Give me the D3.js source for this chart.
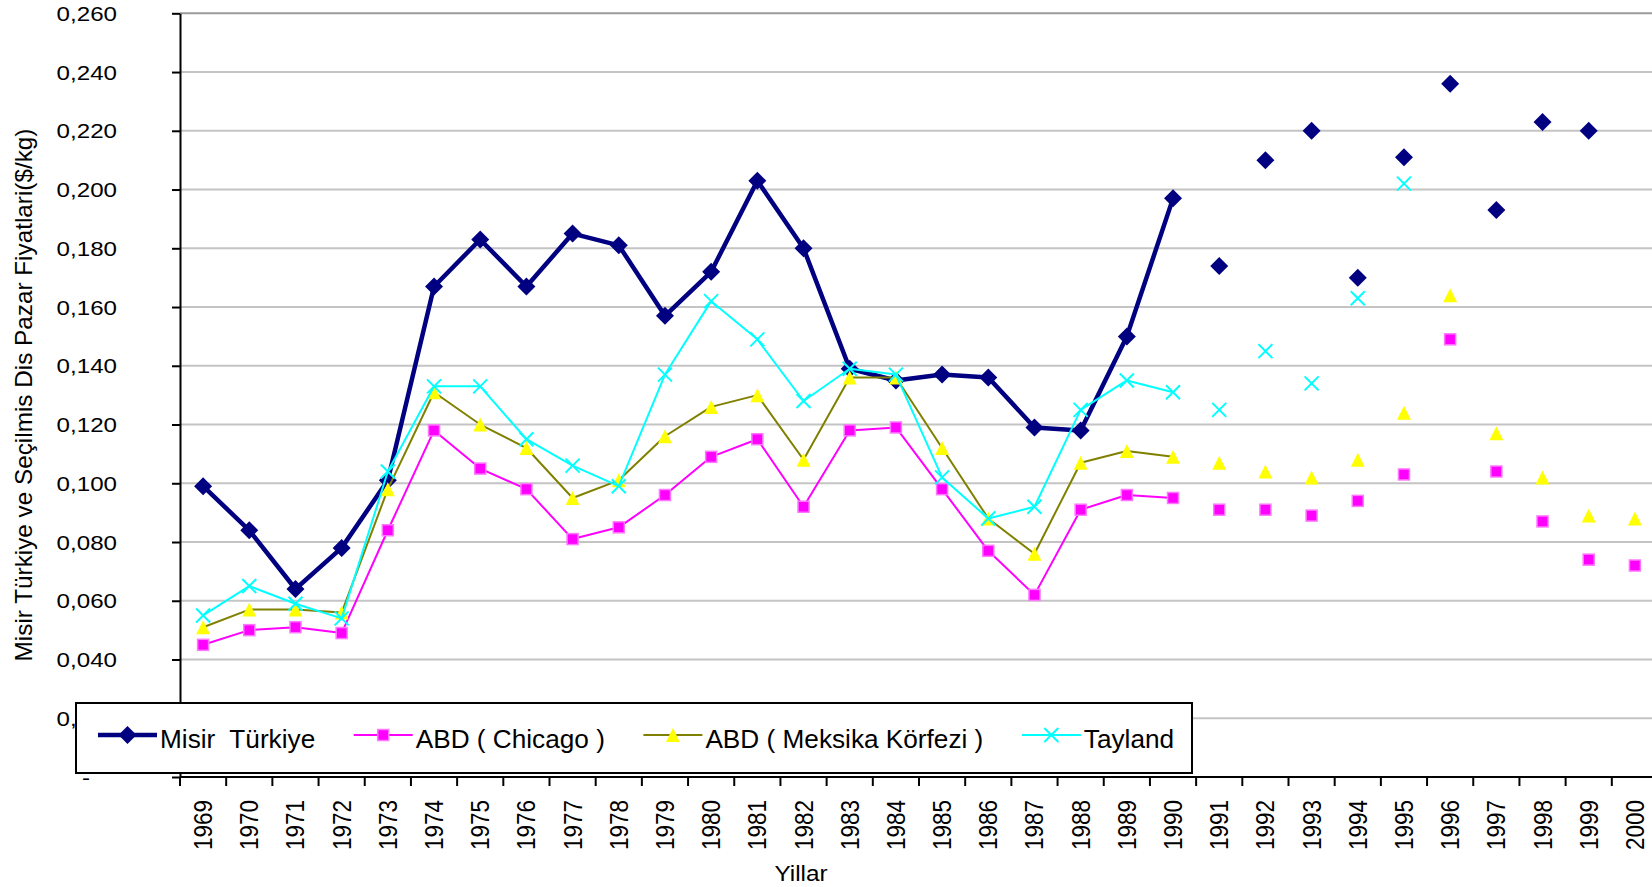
<!DOCTYPE html>
<html><head><meta charset="utf-8">
<script src="https://cdn.jsdelivr.net/npm/d3@7"></script>
<style>
html,body{margin:0;padding:0;background:#fff;overflow:hidden}
text{font-family:"Liberation Sans",Arial,"DejaVu Sans",sans-serif;fill:#000}
</style></head><body>
<svg id="chart" width="1652" height="887"></svg>
<script>
// ---- data ----
const years = ["1969","1970","1971","1972","1973","1974","1975","1976","1977","1978",
  "1979","1980","1981","1982","1983","1984","1985","1986","1987","1988","1989","1990",
  "1991","1992","1993","1994","1995","1996","1997","1998","1999","2000"];
const misirTurkiye = [0.099,0.084,0.064,0.078,0.101,0.167,0.183,0.167,0.185,0.181,
  0.157,0.172,0.203,0.180,0.139,0.135,0.137,0.136,0.119,0.118,0.150,0.197,
  0.174,0.210,0.220,0.170,0.211,0.236,0.193,0.223,0.220,null];
const abdChicago = [0.045,0.050,0.051,0.049,0.084,0.118,0.105,0.098,0.081,0.085,
  0.096,0.109,0.115,0.092,0.118,0.119,0.098,0.077,0.062,0.091,0.096,0.095,
  0.091,0.091,0.089,0.094,0.103,0.149,0.104,0.087,0.074,0.072];
const abdMeksika = [0.051,0.057,0.057,0.056,0.098,0.131,0.120,0.112,0.095,0.101,
  0.116,0.126,0.130,0.108,0.136,0.136,0.112,0.088,0.076,0.107,0.111,0.109,
  0.107,0.104,0.102,0.108,0.124,0.164,0.117,0.102,0.089,0.088];
const tayland = [0.055,0.065,0.059,0.054,0.104,0.133,0.133,0.115,0.106,0.099,
  0.137,0.162,0.149,0.128,0.139,0.137,0.102,0.088,0.092,0.125,0.135,0.131,
  0.125,0.145,0.134,0.163,0.202,null,null,null,null,null];
const seriesNames = ["Misir  Türkiye","ABD ( Chicago )","ABD ( Meksika Körfezi )","Tayland"];
const yTicks = [0,0.02,0.04,0.06,0.08,0.10,0.12,0.14,0.16,0.18,0.20,0.22,0.24,0.26];
const lastLinkedYear = "1990";
const yTitle = "Misir Türkiye ve Seçilmis Dis Pazar Fiyatlari($/kg)";
const xTitle = "Yillar";

// ---- styles ----
const styles = [
  {values: misirTurkiye, line:"#000080", width:4.5, marker:"diamond", fill:"#000080", stroke:"#000080"},
  {values: abdChicago, line:"#FF00FF", width:2, marker:"square", fill:"#FF00FF", stroke:"#FF77FF"},
  {values: abdMeksika, line:"#808000", width:2, marker:"triangle", fill:"#FFFF00", stroke:"#FFFF00"},
  {values: tayland, line:"#00FFFF", width:2, marker:"x", fill:"none", stroke:"#00FFFF"}
];

const svg = d3.select("#chart");
svg.append("rect").attr("width",1652).attr("height",887).attr("fill","#fff");

const L = 180, R = 1658, T = 13.3, B = 777;
const x = d3.scaleBand().domain(years).range([L, R]);
const y = d3.scaleLinear().domain([0, 0.26]).range([B, T]);
const cx = d => x(d) + x.bandwidth()/2;

// gridlines
svg.append("g").selectAll("line").data(yTicks.filter(d => d > 0)).join("line")
  .attr("x1", L).attr("x2", R).attr("y1", d => y(d)).attr("y2", d => y(d))
  .attr("stroke", d => d === 0.26 ? "#9a9a9a" : "#c4c4c4").attr("stroke-width", 2);

// y axis
const loc = d3.formatLocale({decimal:",", thousands:".", grouping:[3], currency:["","$"]});
const f3 = loc.format(".3f");
const yAxis = d3.axisLeft(y).tickValues(yTicks).tickSize(8).tickSizeOuter(0).tickPadding(55)
  .tickFormat(d => d === 0 ? "-" : f3(d));
const gy = svg.append("g").attr("transform", `translate(${L},0)`).call(yAxis);
gy.select(".domain").attr("stroke","#000").attr("stroke-width",2);
gy.selectAll(".tick line").attr("stroke","#000").attr("stroke-width",2);
gy.selectAll(".tick text")
  .attr("font-size", 21).attr("font-family", null)
  .attr("x", 0).attr("dy", "0.34em")
  .attr("transform", d => d === 0 ? "translate(-94,0) scale(1.15,1)" : "translate(-63,0) scale(1.15,1)")
  .attr("text-anchor", d => d === 0 ? "middle" : "end");

// x axis
const gx = svg.append("g");
gx.append("line").attr("x1", L).attr("x2", R).attr("y1", B).attr("y2", B)
  .attr("stroke","#000").attr("stroke-width",2);
const bounds = years.map(d => x(d)).concat([x.range()[1]]);
gx.selectAll("line.tk").data(bounds).join("line").attr("class","tk")
  .attr("x1", d => d).attr("x2", d => d).attr("y1", B).attr("y2", B + 9)
  .attr("stroke","#000").attr("stroke-width",2);
gx.selectAll("text").data(years).join("text")
  .attr("transform", d => `translate(${cx(d)},800) scale(1.14,1) rotate(-90)`)
  .attr("text-anchor","end").attr("dy","0.35em").attr("font-size",22.5)
  .text(d => d);

// titles
svg.append("text").attr("transform","translate(31.5,395) rotate(-90)")
  .attr("text-anchor","middle").attr("font-size",24.3).text(yTitle);
svg.append("text").attr("transform","translate(801,881) scale(1.08,1)")
  .attr("text-anchor","middle").attr("font-size",22.5).text(xTitle);

// markers
function drawMarker(g, type, s, px, py) {
  if (type === "diamond") {
    g.append("path").attr("d", `M${px},${py-9}L${px+9},${py}L${px},${py+9}L${px-9},${py}Z`)
      .attr("fill", s.fill);
  } else if (type === "square") {
    g.append("rect").attr("x", px-5.5).attr("y", py-5.5).attr("width", 11).attr("height", 11)
      .attr("fill", s.fill).attr("stroke", s.stroke).attr("stroke-width", 1.5);
  } else if (type === "triangle") {
    g.append("path").attr("d", `M${px},${py-7}L${px+7},${py+7}L${px-7},${py+7}Z`)
      .attr("fill", s.fill);
  } else if (type === "x") {
    g.append("path").attr("d", `M${px-7},${py-7}L${px+7},${py+7}M${px-7},${py+7}L${px+7},${py-7}`)
      .attr("stroke", s.stroke).attr("stroke-width", 2).attr("fill","none");
  }
}

const lastIdx = years.indexOf(lastLinkedYear);
styles.forEach(s => {
  const g = svg.append("g");
  const pts = years.map((yr, i) => ({yr, v: s.values[i], i})).filter(p => p.v != null);
  const linePts = pts.filter(p => p.i <= lastIdx);
  g.append("path").datum(linePts)
    .attr("d", d3.line().x(p => cx(p.yr)).y(p => y(p.v)))
    .attr("fill","none").attr("stroke", s.line).attr("stroke-width", s.width)
    .attr("stroke-linejoin","round");
  pts.forEach(p => drawMarker(g, s.marker, s, cx(p.yr), y(p.v)));
});

// legend
const lg = svg.append("g");
lg.append("rect").attr("x",76).attr("y",703).attr("width",1116).attr("height",70)
  .attr("fill","#fff").attr("stroke","#000").attr("stroke-width",2);
let lx = 98;
styles.forEach((s, i) => {
  const ly = 735;
  lg.append("line").attr("x1", lx).attr("x2", lx + 59).attr("y1", ly).attr("y2", ly)
    .attr("stroke", s.line).attr("stroke-width", s.width);
  drawMarker(lg, s.marker, s, lx + 29.5, ly);
  const t = lg.append("text").attr("x", lx + 62).attr("y", 748).attr("font-size", 26.2)
    .style("white-space","pre").text(seriesNames[i]);
  lx = lx + 62 + t.node().getComputedTextLength() + 38.5;
});
</script>
</body></html>
